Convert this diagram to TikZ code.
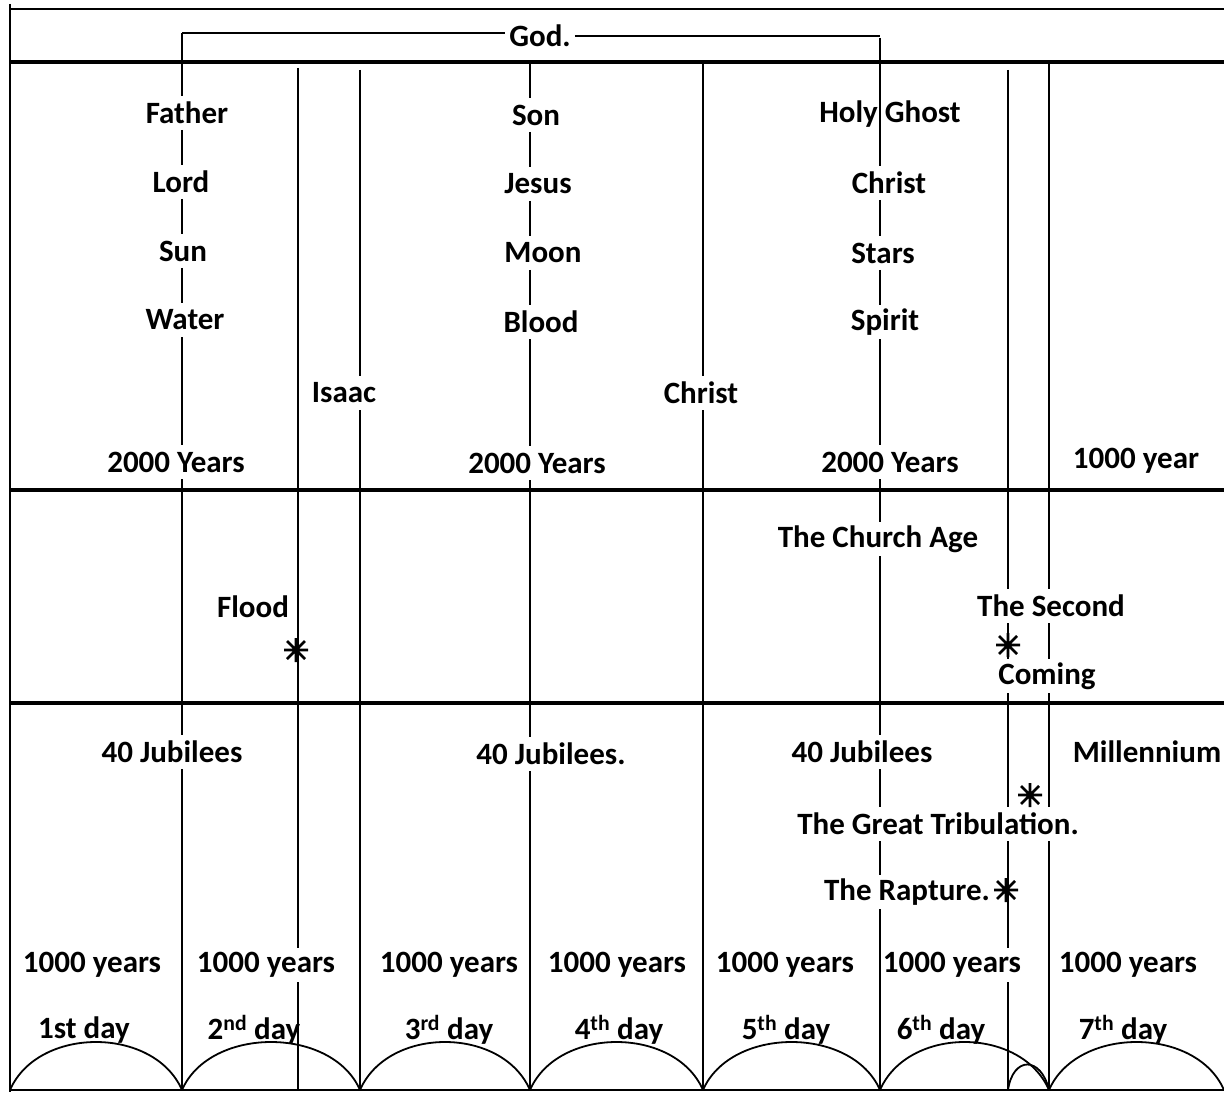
\documentclass[tikz,border=0pt]{standalone}
\usepackage{fontspec}
\setmainfont{Carlito}
\usetikzlibrary{positioning, calc}

\begin{document}
\begin{tikzpicture}[x=1pt, y=-1pt,
    lbl/.style={font=\fontsize{31}{36}\selectfont\bfseries, inner sep=1pt},
    rule/.style={draw, line width=3.5pt},
    sep/.style={draw, line width=1.8pt},
    dayarc/.style={draw, line width=1.8pt},
    astx/.pic={\draw[line width=2.6pt] (-12,0) -- (12,0) (0,-12) -- (0,12) (-9,-9) -- (9,9) (-9,9) -- (9,-9);}
]
    \useasboundingbox (0,0) rectangle (1224,1094);

    % Frame and horizontal rules
    \coordinate (tl) at (10,9);
    \coordinate (tr) at (1224,9);
    \coordinate (bl) at (10,1090);
    \coordinate (br) at (1224,1090);
    \path [sep] (10,4) -- (10,1092);
    \path [rule, line width=2.5pt] (tl) -- (tr);
    \path [rule] (10,62) -- (1224,62);
    \path [rule] (10,490) -- (1224,490);
    \path [rule] (10,703) -- (1224,703);
    \path [rule, line width=2.5pt] (bl) -- (br);

    % Ends of the day separators (s/e sit one gap beyond the ends)
    \foreach \n/\x/\y in {1/182/33, 2/298/68, 3/360/70, 4/530/62,
                          5/703/62, 6/880/38, 7/1008/70, 8/1049/62} {
        \coordinate (v\n t) at (\x,\y);
        \coordinate (v\n b) at (\x,1090);
        \coordinate (v\n s) at (\x,\y-17);
        \coordinate (v\n e) at (\x,1107);
    }

    % God
    \node [lbl, inner sep=4pt] (god) at (540,36) {God.};

    % Trinity columns
    \node [lbl] (father) at (187,113) {Father};
    \node [lbl] (lord) at (181,182) {Lord};
    \node [lbl] (sun) at (183,251) {Sun};
    \node [lbl] (water) at (185,320) {Water};

    \node [lbl] (son) at (536,115) {Son};
    \node [lbl] (jesus) at (538,184) {Jesus};
    \node [lbl] (moon) at (543,253) {Moon};
    \node [lbl] (blood) at (541,322) {Blood};

    \node [lbl] (ghost) at (890,114) {Holy Ghost};
    \node [lbl] (christa) at (889,183) {Christ};
    \node [lbl] (stars) at (883,253) {Stars};
    \node [lbl] (spirit) at (885,322) {Spirit};

    \node [lbl] (isaac) at (344,393) {Isaac};
    \node [lbl] (christb) at (701,393) {Christ};

    % Ages
    \node [lbl] (ya) at (176,462) {2000 Years};
    \node [lbl] (yb) at (537,463) {2000 Years};
    \node [lbl] (yc) at (890,462) {2000 Years};
    \node [lbl] (yd) at (1136,461) {1000 year};

    % Events
    \node [lbl] (church) at (878,539) {The Church Age};
    \node [lbl] (flood) at (253,607) {Flood};
    \pic at (296,650) {astx};
    \node [lbl] (second) at (1051,606) {The Second};
    \node [lbl] (coming) at (1047,676) {Coming};
    \pic at (1008,645) {astx};

    % Jubilees
    \node [lbl] (juba) at (172,752) {40 Jubilees};
    \node [lbl] (jubb) at (551,754) {40 Jubilees.};
    \node [lbl] (jubc) at (862,752) {40 Jubilees};
    \node [lbl] (mill) at (1147,752) {Millennium};

    \pic at (1030,795) {astx};
    \node [lbl] (trib) at (938,824) {The Great Tribulation.};
    \node [lbl] (rapture) at (907,892) {The Rapture.};
    \pic at (1006,890) {astx};

    % Thousand years
    \foreach \n/\x in {1/92, 2/266, 3/449, 4/617, 5/785, 6/952, 7/1128}
        \node [lbl] (k\n) at (\x,965) {1000 years};

    % Days
    \node [lbl] (d1) at (84,1030) {1st day};
    \node [lbl] (d2) at (254,1030) {2\textsuperscript{nd} day};
    \node [lbl] (d3) at (449,1030) {3\textsuperscript{rd} day};
    \node [lbl] (d4) at (619,1030) {4\textsuperscript{th} day};
    \node [lbl] (d5) at (786,1030) {5\textsuperscript{th} day};
    \node [lbl] (d6) at (941,1030) {6\textsuperscript{th} day};
    \node [lbl] (d7) at (1123,1030) {7\textsuperscript{th} day};

    % God bracket
    \path [sep] (v1t) -- (v1t -| god.west);
    \path [sep] (god.east) -- (god.east -| v6t);

    % Separators, broken at the labels they cross
    \foreach \a/\b in {v1s/father, father/lord, lord/sun, sun/water, water/ya, ya/juba, juba/v1e}
        \path [sep] ($(v1t |- \a)+(0,17)$) -- ($(v1t |- \b)+(0,-17)$);
    \foreach \a/\b in {v2s/k2, k2/v2e}
        \path [sep] ($(v2t |- \a)+(0,17)$) -- ($(v2t |- \b)+(0,-17)$);
    \foreach \a/\b in {v3s/isaac, isaac/v3e}
        \path [sep] ($(v3t |- \a)+(0,17)$) -- ($(v3t |- \b)+(0,-17)$);
    \foreach \a/\b in {v4s/son, son/jesus, jesus/moon, moon/blood, blood/yb, yb/jubb, jubb/v4e}
        \path [sep] ($(v4t |- \a)+(0,17)$) -- ($(v4t |- \b)+(0,-17)$);
    \foreach \a/\b in {v5s/christb, christb/v5e}
        \path [sep] ($(v5t |- \a)+(0,17)$) -- ($(v5t |- \b)+(0,-17)$);
    \foreach \a/\b in {v6s/christa, christa/stars, stars/spirit, spirit/yc, yc/church,
                       church/jubc, jubc/trib, trib/rapture, rapture/v6e}
        \path [sep] ($(v6t |- \a)+(0,17)$) -- ($(v6t |- \b)+(0,-17)$);
    \foreach \a/\b in {v7s/second, second/coming, coming/trib, trib/k6, k6/v7e}
        \path [sep] ($(v7t |- \a)+(0,17)$) -- ($(v7t |- \b)+(0,-17)$);
    \foreach \a/\b in {v8s/second, second/coming, coming/trib, trib/v8e}
        \path [sep] ($(v8t |- \a)+(0,17)$) -- ($(v8t |- \b)+(0,-17)$);

    % Arcs
    \foreach \a/\b in {bl/v1b, v1b/v3b, v3b/v4b, v4b/v5b, v5b/v6b, v6b/v8b, v8b/br}
        \path [dayarc] (\a) .. controls +(28,-64) and +(-28,-64) .. (\b);
    \path [dayarc] (v7b) .. controls +(5,-34) and +(-8,-34) .. (v8b);

\end{tikzpicture}
\end{document}
